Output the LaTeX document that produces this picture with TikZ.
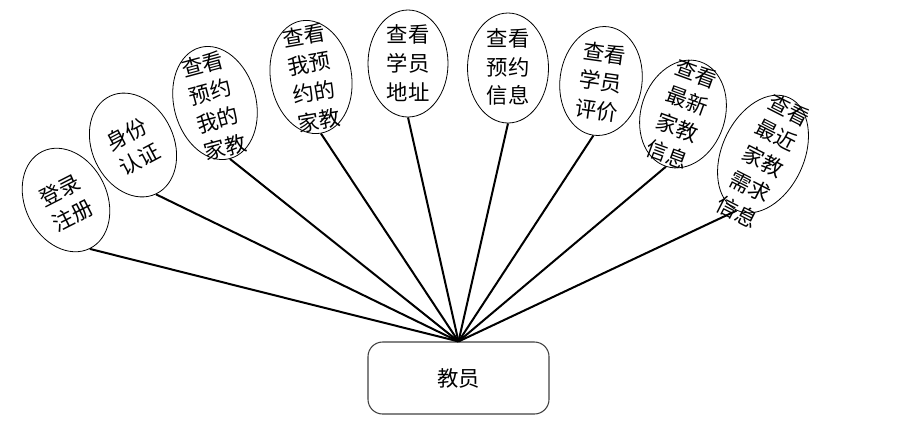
\documentclass[tikz,border=0pt]{standalone}
\usepackage{fontspec}
\newfontfamily\cjk{Noto Sans CJK SC}
\usetikzlibrary{shapes.geometric}
\begin{document}
\begin{tikzpicture}[x=0.75pt,y=-0.75pt,
  ell/.style={ellipse, draw, line width=0.6pt, inner sep=0pt},
  ax/.style 2 args={minimum height=#1*1.5pt, minimum width=#2*1.5pt},
  lbl/.style={font=\cjk\fontsize{16}{21.5}\selectfont, align=center, inner sep=0pt},
  link/.style={line width=1.5pt},
  box/.style={draw=black!75, line width=0.8pt, rounded corners=11pt,
    minimum width=135.75pt, minimum height=54pt, font=\cjk\fontsize{16}{21.5}\selectfont}]
\useasboundingbox (0,0) rectangle (912,433);

\node[box] (r) at (458.5,378) {教员};

\node[ell, ax={54}{41}, rotate=26] (e1) at (66,200) {};
\node[lbl, rotate=27] (t1) at (66,203) {登录\\注册};

\node[ell, ax={54}{41}, rotate=25] (e2) at (133,145) {};
\node[lbl, rotate=28] (t2) at (133,147) {身份\\认证};

\node[ell, ax={57.5}{41}, rotate=15] (e3) at (215,103) {};
\node[lbl, rotate=15] (t3) at (214,106) {查看\\预约\\我的\\家教};

\node[ell, ax={57}{40.5}, rotate=10] (e4) at (311,77) {};
\node[lbl, rotate=10] (t4) at (312,78) {查看\\我预\\约的\\家教};

\node[ell, ax={53.5}{40}, rotate=0] (e5) at (408,63.5) {};
\node[lbl] (t5) at (408,63) {查看\\学员\\地址};

\node[ell, ax={55}{40.5}, rotate=0] (e6) at (508,68) {};
\node[lbl] (t6) at (508,67) {查看\\预约\\信息};

\node[ell, ax={54.7}{41}, rotate=-8] (e7) at (601,81) {};
\node[lbl, rotate=-8] (t7) at (601,82) {查看\\学员\\评价};

\node[ell, ax={55}{42}, rotate=-18] (e8) at (683,114) {};
\node[lbl, rotate=-20] (t8) at (682,114) {查看\\最新\\家教\\信息};

\node[ell, ax={62}{41}, rotate=-25] (e9) at (763,154) {};
\node[lbl, rotate=-27] (t9) at (763,161) {查看\\最近\\家教\\需求\\信息};

\foreach \i in {1,...,9} \draw[link] (e\i.south) -- (r.north);
\end{tikzpicture}
\end{document}
